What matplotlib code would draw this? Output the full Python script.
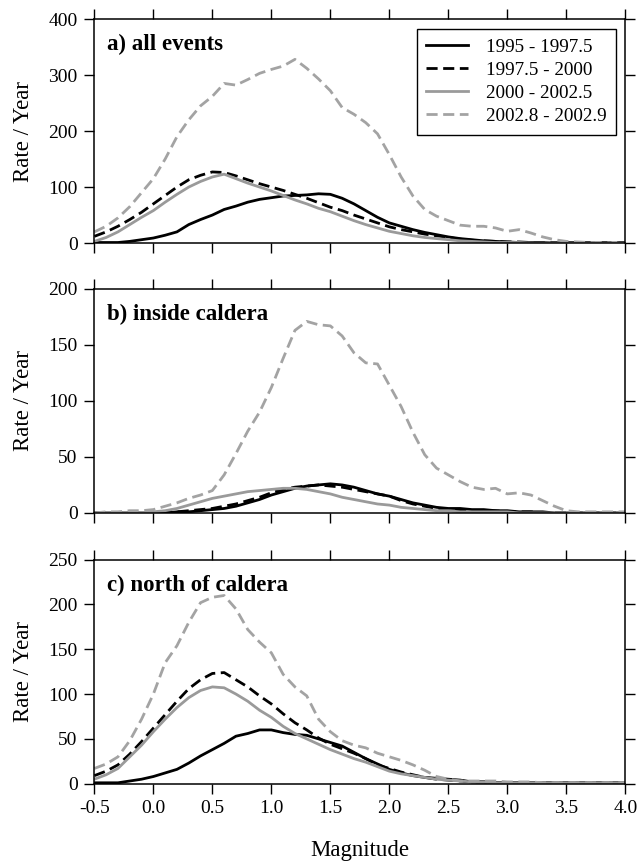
import numpy as np
import matplotlib.pyplot as plt

plt.rcParams['font.family'] = ['Liberation Serif', 'DejaVu Serif']

# magnitude bins, 0.1 steps
mag = np.round(np.arange(-0.5, 4.01, 0.1), 1)

labels = ['1995 - 1997.5', '1997.5 - 2000', '2000 - 2002.5', '2002.8 - 2002.9']

# a) all events
a_p1 = [1, 1, 1, 3, 6, 9, 14, 20, 33, 42, 50, 60, 66, 73, 78, 81, 84, 85, 86, 88, 87, 80, 70, 58, 46, 36,
        30, 24, 19, 15, 11, 8, 6, 4, 3, 2, 1, 1, 1, 0, 0, 0, 0, 0, 0, 0]
a_p2 = [12, 20, 30, 42, 55, 70, 85, 100, 113, 121, 127, 126, 120, 113, 106, 100, 94, 87, 80, 72, 64, 58, 50,
        43, 36, 29, 24, 20, 16, 13, 10, 7, 5, 4, 3, 2, 2, 1, 1, 1, 1, 1, 1, 1, 1, 1]
a_p3 = [3, 10, 20, 33, 46, 58, 73, 87, 100, 110, 118, 123, 115, 107, 100, 93, 85, 77, 70, 62, 56, 48, 40,
        33, 27, 21, 17, 13, 10, 8, 6, 4, 3, 2, 1, 1, 1, 0, 0, 0, 0, 0, 0, 0, 0, 0]
a_p4 = [20, 30, 45, 65, 90, 115, 150, 190, 220, 245, 262, 285, 282, 292, 303, 310, 316, 328, 312, 293, 272,
        242, 230, 215, 195, 158, 118, 84, 60, 48, 40, 32, 30, 30, 27, 21, 24, 18, 11, 6, 3, 2, 1, 1, 0, 0]

# b) inside caldera
b_p1 = [0, 0, 0, 0, 0, 0, 0, 1, 1, 2, 3, 4, 6, 9, 12, 16, 19, 22, 24, 25, 26, 25, 23, 20, 17, 15, 12, 9, 7,
        5, 4, 4, 3, 3, 2, 2, 1, 1, 1, 0, 0, 0, 0, 0, 0, 0]
b_p2 = [0, 0, 0, 0, 0, 0, 1, 1, 2, 3, 4, 6, 8, 11, 14, 18, 21, 23, 24, 25, 24, 23, 21, 19, 17, 15, 11, 8, 6,
        4, 3, 3, 2, 2, 2, 1, 1, 1, 0, 0, 0, 0, 0, 0, 0, 0]
b_p3 = [0, 0, 0, 0, 0, 1, 2, 4, 7, 10, 13, 15, 17, 19, 20, 21, 22, 22, 21, 19, 17, 14, 12, 10, 8, 7, 5, 4,
        3, 2, 2, 1, 1, 1, 1, 1, 0, 0, 0, 0, 0, 0, 0, 0, 0, 0]
b_p4 = [0, 1, 1, 2, 2, 3, 6, 9, 13, 16, 20, 34, 53, 73, 90, 112, 138, 163, 171, 168, 167, 158, 143, 134,
        133, 114, 95, 72, 52, 40, 34, 28, 23, 21, 22, 17, 18, 16, 11, 6, 2, 1, 1, 1, 1, 1]

# c) north of caldera
c_p1 = [1, 1, 1, 3, 5, 8, 12, 16, 23, 31, 38, 45, 53, 56, 60, 60, 57, 55, 54, 50, 46, 42, 35, 28, 22, 16,
        12, 9, 7, 6, 5, 4, 2, 2, 1, 1, 1, 1, 1, 1, 1, 1, 1, 1, 1, 1]
c_p2 = [9, 14, 21, 33, 47, 62, 77, 92, 106, 116, 123, 124, 116, 108, 98, 89, 78, 68, 60, 51, 44, 39, 34,
        28, 21, 17, 13, 10, 7, 5, 4, 3, 2, 2, 1, 1, 1, 1, 1, 1, 1, 1, 1, 1, 1, 1]
c_p3 = [5, 10, 17, 30, 43, 58, 72, 85, 96, 104, 108, 107, 100, 92, 82, 74, 64, 56, 50, 44, 38, 33, 28, 24,
        19, 14, 11, 9, 7, 5, 4, 3, 2, 2, 1, 1, 1, 1, 1, 1, 1, 1, 1, 1, 1, 1]
c_p4 = [17, 22, 30, 48, 72, 100, 135, 154, 180, 202, 208, 210, 195, 172, 158, 146, 122, 108, 98, 72, 58,
        48, 43, 40, 34, 30, 26, 21, 15, 8, 5, 3, 3, 3, 3, 2, 2, 2, 1, 1, 1, 1, 1, 1, 1, 1]

panels = [
    ('a) all events', [a_p1, a_p2, a_p3, a_p4], 400, 100),
    ('b) inside caldera', [b_p1, b_p2, b_p3, b_p4], 200, 50),
    ('c) north of caldera', [c_p1, c_p2, c_p3, c_p4], 250, 50),
]

styles = [
    dict(color='black', lw=2.0, ls='-'),
    dict(color='black', lw=2.0, ls=(0, (4, 2))),
    dict(color='#9a9a9a', lw=2.0, ls='-'),
    dict(color='#a3a3a3', lw=2.0, ls=(0, (4, 2))),
]

fig = plt.figure(figsize=(6.42, 8.65), dpi=100)
boxes = [[0.147, 0.719, 0.827, 0.259],
         [0.147, 0.407, 0.827, 0.259],
         [0.147, 0.094, 0.827, 0.259]]

for i, (title, series, ymax, ystep) in enumerate(panels):
    ax = fig.add_axes(boxes[i])
    for s, st, lab in zip(series, styles, labels):
        ax.plot(mag, s, label=lab, **st)
    ax.set_xlim(-0.5, 4.0)
    ax.set_ylim(0, ymax)
    ax.set_xticks(np.arange(-0.5, 4.01, 0.5))
    ax.set_yticks(np.arange(0, ymax + 1, ystep))
    ax.tick_params(direction='out', length=7, width=1, pad=5, top=True, right=True, labelsize=14)
    for sp in ax.spines.values():
        sp.set_linewidth(1.1)
    ax.set_ylabel('Rate / Year', fontsize=16.5, labelpad=10)
    ax.text(0.024, 0.885, title, transform=ax.transAxes, fontsize=16.5, fontweight='bold',
            va='center', ha='left')
    if i < 2:
        ax.set_xticklabels([])
    else:
        ax.set_xticklabels(['%.1f' % v for v in np.arange(-0.5, 4.01, 0.5)])
        ax.set_xlabel('Magnitude', fontsize=16.5, labelpad=16)
    if i == 0:
        leg = ax.legend(loc='upper right', fontsize=13.8, fancybox=False, edgecolor='black',
                        framealpha=1, handlelength=2.2, handletextpad=0.9, borderaxespad=0.5,
                        labelspacing=0.3, borderpad=0.5)
        leg.get_frame().set_linewidth(1.0)

fig.savefig('out.png', dpi=100)
